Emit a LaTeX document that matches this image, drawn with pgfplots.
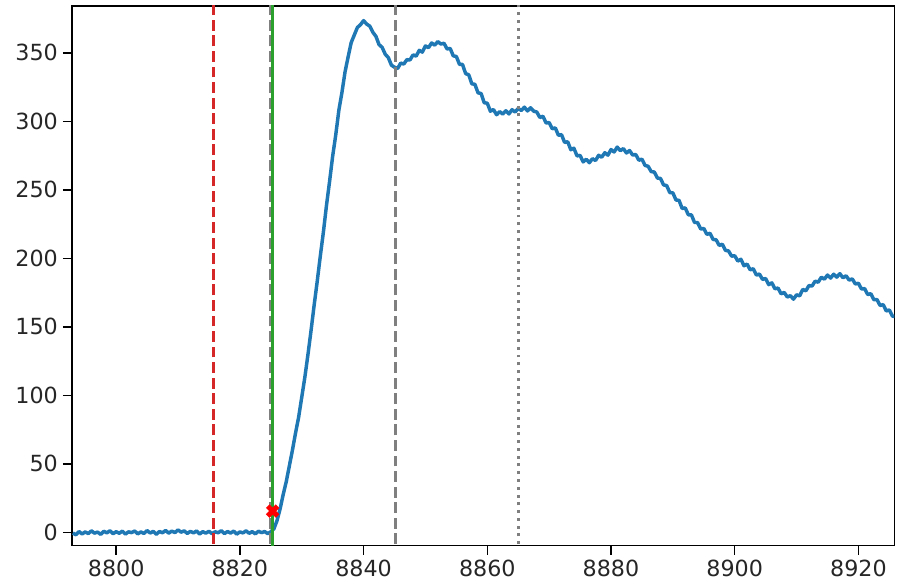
\documentclass[border=0pt]{standalone}
\usepackage{fontspec}
\setmainfont{DejaVu Sans}
\usepackage{pgfplots}
\pgfplotsset{compat=1.18}
\definecolor{mplblue}{HTML}{1F77B4}
\definecolor{mplred}{HTML}{D62728}
\definecolor{mplgreen}{HTML}{2CA02C}
\definecolor{mplgray}{HTML}{7F7F7F}

\begin{document}
\begin{tikzpicture}
\begin{axis}[
  scale only axis, width=591.8pt, height=388.4pt,
  xmin=8792.9, xmax=8925.8, ymin=-9.6, ymax=384.2,
  xtick={8800,8820,...,8920}, ytick={0,50,...,350},
  xtick pos=left, ytick pos=left,
  tick align=outside, major tick length=6.8pt,
  axis line style={line width=1.1pt},
  every tick/.style={black, line width=1.1pt},
  tick label style={font=\fontsize{16}{18}\selectfont, text=black!85},
  /pgf/number format/assume math mode=true,
  /pgf/number format/1000 sep={},
  clip=true,
]
% measured spectrum
\addplot[mplblue, line width=2.5pt, line join=round] coordinates {
(8793.0,-0.5) (8793.5,-1.8) (8794.0,0.6) (8794.5,-1.2) (8795.0,0.3) (8795.5,-0.9)
(8796.0,1.1) (8796.5,-0.6) (8797.0,0.2) (8797.5,-1.5) (8798.0,0.8) (8798.5,-0.4)
(8799.0,1.2) (8799.5,-1.0) (8800.0,0.5) (8800.5,-0.7) (8801.0,0.9) (8801.5,-1.3)
(8802.0,0.4) (8802.5,-0.2) (8803.0,1.0) (8803.5,-1.1) (8804.0,0.3) (8804.5,-0.8)
(8805.0,1.3) (8805.5,-0.5) (8806.0,0.7) (8806.5,-1.4) (8807.0,0.6) (8807.5,-0.3)
(8808.0,1.4) (8808.5,-0.6) (8809.0,0.9) (8809.5,-0.2) (8810.0,1.8) (8810.5,0.1)
(8811.0,1.1) (8811.5,-0.8) (8812.0,0.7) (8812.5,-0.4) (8813.0,1.0) (8813.5,-1.2)
(8814.0,0.5) (8814.5,-0.6) (8815.0,0.8) (8815.5,-1.0) (8816.0,0.4) (8816.5,-0.3)
(8817.0,1.2) (8817.5,-0.9) (8818.0,0.6) (8818.5,-0.5) (8819.0,0.9) (8819.5,-1.3)
(8820.0,0.3) (8820.5,-0.4) (8821.0,1.1) (8821.5,-0.7) (8822.0,0.5) (8822.5,-1.1)
(8823.0,0.8) (8823.5,-0.2) (8824.0,0.6) (8824.5,-0.9) (8825.0,0.4)
(8825.5,2.5) (8826.0,8.5) (8826.5,17) (8827.0,27.5) (8827.5,37) (8828.0,48.5)
(8828.5,60) (8829.0,72.5) (8829.5,84) (8830.0,98.5) (8830.5,113) (8831.0,129.5)
(8831.5,147) (8832.0,165.5) (8832.5,183) (8833.0,201.5) (8833.5,219) (8834.0,238.5)
(8834.5,256) (8835.0,274.5) (8835.5,290) (8836.0,308) (8836.5,321) (8837.0,336)
(8837.5,347) (8838.0,357.5) (8838.5,363) (8839.0,368.5) (8839.5,370.5) (8840.0,373.5)
(8840.5,371) (8841.0,369.5) (8841.5,365) (8842.0,362) (8842.5,356) (8843.0,354)
(8843.5,349) (8844.0,346.5) (8844.5,341) (8845.0,339.5) (8845.5,338.5) (8846.0,342.5)
(8846.5,341.8) (8847.0,345) (8847.5,344.8) (8848.0,348.5) (8848.5,347.6) (8849.0,351.8)
(8849.5,350.5) (8850.0,355) (8850.5,353.8) (8851.0,357.2) (8851.5,355.6) (8852.0,358.2)
(8852.5,356.4) (8853.0,357) (8853.5,352.8) (8854.0,353.2) (8854.5,347.8) (8855.0,347.3)
(8855.5,341.6) (8856.0,341.5) (8856.5,334.8) (8857.0,334) (8857.5,327.4) (8858.0,327)
(8858.5,320.8) (8859.0,320.3) (8859.5,313.6) (8860.0,313.2) (8860.5,307.4) (8861.0,308.6)
(8861.5,304.8) (8862.0,307.1) (8862.5,305.3) (8863.0,307.7) (8863.5,305.4) (8864.0,308.5)
(8864.5,306.8) (8865.0,309.4) (8865.5,307.9) (8866.0,310.3) (8866.5,307.6) (8867.0,309.9)
(8867.5,307.4) (8868.0,306.8) (8868.5,302.8) (8869.0,303.7) (8869.5,298.8) (8870.0,299.1)
(8870.5,294.6) (8871.0,295.2) (8871.5,289.8) (8872.0,290.3) (8872.5,284.6) (8873.0,285.1)
(8873.5,279.3) (8874.0,280.4) (8874.5,274.8) (8875.0,275.1) (8875.5,270.4) (8876.0,272.3)
(8876.5,269.8) (8877.0,272.7) (8877.5,271.4) (8878.0,275.2) (8878.5,273.8) (8879.0,277.1)
(8879.5,275.3) (8880.0,279.4) (8880.5,277.6) (8881.0,281.2) (8881.5,278.6) (8882.0,280.1)
(8882.5,276.9) (8883.0,278.7) (8883.5,275.4) (8884.0,275.8) (8884.5,271.6) (8885.0,272.4)
(8885.5,267.8) (8886.0,267.2) (8886.5,263.3) (8887.0,263.0) (8887.5,258.6) (8888.0,258.3)
(8888.5,253.6) (8889.0,253.1) (8889.5,248) (8890.0,247.8) (8890.5,242.6) (8891.0,242.3)
(8891.5,236.4) (8892.0,236.8) (8892.5,231.8) (8893.0,231.7) (8893.5,226.2) (8894.0,226.1)
(8894.5,221.4) (8895.0,221.8) (8895.5,217.5) (8896.0,218.3) (8896.5,213.8) (8897.0,213.5)
(8897.5,209.4) (8898.0,210.3) (8898.5,205.8) (8899.0,205.4) (8899.5,201.6) (8900.0,201.9)
(8900.5,198) (8901.0,199.3) (8901.5,194.6) (8902.0,195.8) (8902.5,191.6) (8903.0,192.4)
(8903.5,187.8) (8904.0,188.5) (8904.5,184.6) (8905.0,185.3) (8905.5,180.8) (8906.0,182.1)
(8906.5,177.8) (8907.0,178.3) (8907.5,174.1) (8908.0,175.1) (8908.5,171.8) (8909.0,172.7)
(8909.5,170.2) (8910.0,173.4) (8910.5,172.6) (8911.0,177.3) (8911.5,176.3) (8912.0,180.1)
(8912.5,179.8) (8913.0,183.3) (8913.5,182.6) (8914.0,186.2) (8914.5,184.8) (8915.0,187.8)
(8915.5,185.6) (8916.0,188.4) (8916.5,186.3) (8917.0,188.8) (8917.5,185.8) (8918.0,187.3)
(8918.5,184.1) (8919.0,185) (8919.5,181.3) (8920.0,181.8) (8920.5,177.6) (8921.0,177.9)
(8921.5,173.6) (8922.0,174.2) (8922.5,169.8) (8923.0,169.9) (8923.5,165.6) (8924.0,166.2)
(8924.5,161.6) (8925.0,162.3) (8925.5,157.8) (8926.0,157.5)
};
% reference lines
\addplot[mplred, line width=2.1pt, dash pattern=on 7.8pt off 3.4pt]
  coordinates {(8815.8,-20) (8815.8,400)};
\addplot[mplgray, line width=2.1pt, dash pattern=on 7.8pt off 3.4pt]
  coordinates {(8825.0,-20) (8825.0,400)};
\addplot[mplgreen, line width=2.1pt]
  coordinates {(8825.25,-20) (8825.25,400)};
\addplot[mplgray, line width=2.1pt, dash pattern=on 7.8pt off 3.4pt]
  coordinates {(8845.1,-20) (8845.1,400)};
\addplot[mplgray, line width=2.1pt, dash pattern=on 2.1pt off 3.5pt]
  coordinates {(8865.1,-20) (8865.1,400)};
% edge point
\addplot[only marks, mark=x, mark size=5pt, red,
  mark options={line width=3.6pt}]
  coordinates {(8825.3,15.5)};
\end{axis}
\pgfresetboundingbox
\path[use as bounding box] ([shift={(-52pt,-27pt)}]current axis.south west)
  rectangle ([shift={(4.1pt,4.3pt)}]current axis.north east);
\end{tikzpicture}
\end{document}
